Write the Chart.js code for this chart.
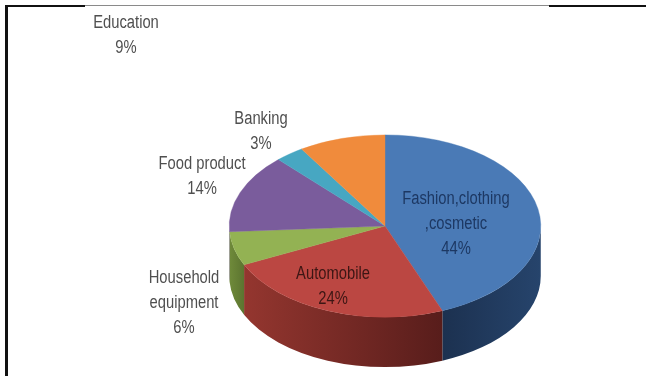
<!DOCTYPE html>
<html>
<head>
<meta charset="utf-8">
<script src="https://cdn.jsdelivr.net/npm/chart.js@4/dist/chart.umd.min.js"></script>
<style>
  html, body { margin: 0; padding: 0; background: #fff; }
  #wrap { position: relative; width: 646px; height: 376px; overflow: hidden; }
  #pie { position: absolute; left: 0; top: 0; }
  .rule { position: absolute; background: #111; }
</style>
</head>
<body>
<div id="wrap">
  <canvas id="pie" width="646" height="376"></canvas>
  <div class="rule" style="left:5px;top:5px;width:80px;height:2px"></div>
  <div class="rule" style="left:85px;top:5px;width:464px;height:1px;background:#8a8a8a"></div>
  <div class="rule" style="left:549px;top:5px;width:97px;height:2px"></div>
  <div class="rule" style="left:5px;top:5px;width:3px;height:371px"></div>
</div>
<script>
// sector names (\n = line break in the label) and their shares in %
const categories = ['Fashion,clothing\n,cosmetic', 'Automobile', 'Household\nequipment', 'Food product', 'Banking', 'Education'];
const shares = [44, 24, 6, 14, 3, 9];

// look
const topColors  = ['#4a7ab6', '#bb4742', '#93b253', '#7a5c9c', '#47a7c2', '#f08b3c'];
const sideColors = [['#1c3150', '#26446c'], ['#94362f', '#581d1b'], ['#6f8a3a', '#5c7430'],
                    ['#553f70', '#553f70'], ['#2f7c90', '#2f7c90'], ['#b5642a', '#b5642a']];
const labelColors = ['#1d3863', '#3c1614', '#4f4f4f', '#4f4f4f', '#4f4f4f', '#4f4f4f'];
// text anchor per slice: [centre x, first baseline]
const labelAnchors = [[456, 204], [333, 279], [184, 283], [202, 169], [261, 124], [126, 28]];

const TILT = 0.585;     // vertical squash of the disc
const CY = 226;         // centre line of the top face
const DEPTH = 50;       // thickness of the disc
const LINE_H = 25;
const FONT = '18px "Liberation Sans", Arial, sans-serif';
const NARROW = 0.82;    // squeeze Liberation Sans to narrow widths

const pie3d = {
  id: 'pie3d',
  beforeDatasetsDraw(chart) {
    const ctx = chart.ctx;
    const arcs = chart.getDatasetMeta(0).data;
    // rim of the disc, only the half facing the viewer
    arcs.forEach((arc, i) => {
      const { x, outerRadius: r, startAngle, endAngle } = arc.getProps(['x', 'outerRadius', 'startAngle', 'endAngle'], true);
      const a0 = Math.max(startAngle, 0), a1 = Math.min(endAngle, Math.PI);
      if (a1 <= a0) return;
      const xl = x + r * Math.cos(a1), xr = x + r * Math.cos(a0);
      const g = ctx.createLinearGradient(Math.min(xl, xr), 0, Math.max(xl, xr), 0);
      if (i === 0) { g.addColorStop(0, sideColors[i][0]); g.addColorStop(1, sideColors[i][1]); }
      else { g.addColorStop(0, sideColors[i][0]); g.addColorStop(1, sideColors[i][1]); }
      ctx.save();
      ctx.beginPath();
      ctx.ellipse(x, CY, r, r * TILT, 0, a0, a1, false);
      ctx.ellipse(x, CY + DEPTH, r, r * TILT, 0, a1, a0, true);
      ctx.closePath();
      ctx.fillStyle = g;
      ctx.fill();
      ctx.restore();
    });
    // squash the round pie into the top face
    const a = arcs[0];
    ctx.save();
    ctx.translate(0, CY);
    ctx.scale(1, TILT);
    ctx.translate(0, -a.y);
  },
  afterDatasetsDraw(chart) {
    chart.ctx.restore();
  },
  afterDraw(chart) {
    const ctx = chart.ctx;
    ctx.save();
    ctx.font = FONT;
    ctx.textAlign = 'center';
    ctx.textBaseline = 'alphabetic';
    categories.forEach((name, i) => {
      const lines = name.split('\n').concat(shares[i] + '%');
      const [lx, ly] = labelAnchors[i];
      ctx.fillStyle = labelColors[i];
      lines.forEach((t, k) => {
        ctx.save();
        ctx.translate(lx, ly + k * LINE_H);
        ctx.scale(NARROW, 1);
        ctx.fillText(t, 0, 0);
        ctx.restore();
      });
    });
    ctx.restore();
  }
};

new Chart(document.getElementById('pie'), {
  type: 'pie',
  data: {
    labels: categories,
    datasets: [{
      data: shares,
      backgroundColor: topColors,
      borderColor: topColors,
      borderWidth: 0.5
    }]
  },
  options: {
    responsive: false,
    animation: false,
    events: [],
    layout: { padding: { left: 229, right: 105, top: 0, bottom: 64 } },
    plugins: { legend: { display: false }, tooltip: { enabled: false } }
  },
  plugins: [pie3d]
});
</script>
</body>
</html>
